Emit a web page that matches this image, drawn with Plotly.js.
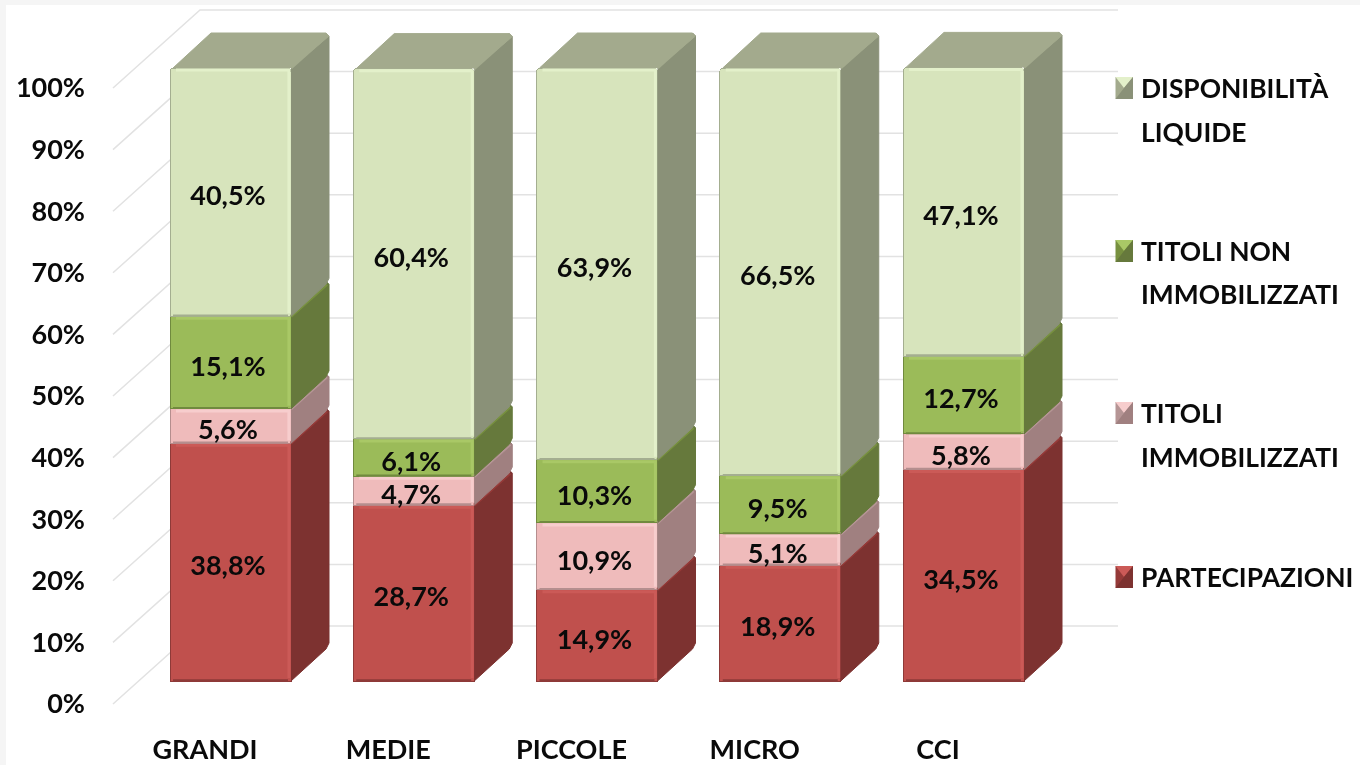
<!DOCTYPE html>
<html><head><meta charset="utf-8">
<script src="https://cdn.plot.ly/plotly-3.0.1.min.js"></script>
<style>html,body{margin:0;padding:0;background:#fff}#c{width:1360px;height:765px;filter:blur(0.5px)}</style>
</head><body><div id="c"></div>
<script>
// ---- data
const categories = ['GRANDI','MEDIE','PICCOLE','MICRO','CCI'];
const partecipazioni = [38.8,28.7,14.9,18.9,34.5];
const titoliImmobilizzati = [5.6,4.7,10.9,5.1,5.8];
const titoliNonImmobilizzati = [15.1,6.1,10.3,9.5,12.7];
const disponibilitaLiquide = [40.5,60.4,63.9,66.5,47.1];
const yTicks = [0,10,20,30,40,50,60,70,80,90,100];
const yTickLabels = ['0%','10%','20%','30%','40%','50%','60%','70%','80%','90%','100%'];
const legendLines = [['DISPONIBILITÀ','LIQUIDE'],['TITOLI NON','IMMOBILIZZATI'],['TITOLI','IMMOBILIZZATI'],['PARTECIPAZIONI']];

// ---- style
const FONT = 'Lato,"Open Sans",sans-serif';
const FS = 27, LEGFS = 26.4;
const W=1360,H=765;
const series = [
 {name:'PARTECIPAZIONI',v:partecipazioni,front:'#C0504D',side:'#7D3230',top:'#953A38',hi:'#CB5A57',lo:'#8E3A38'},
 {name:'TITOLI IMMOBILIZZATI',v:titoliImmobilizzati,front:'#EFBBBB',side:'#A08080',top:'#B59595',hi:'#F7CDCD',lo:'#B58E8E'},
 {name:'TITOLI NON IMMOBILIZZATI',v:titoliNonImmobilizzati,front:'#9BBB59',side:'#66793C',top:'#77903F',hi:'#A9C866',lo:'#708A3E'},
 {name:'DISPONIBILITÀ LIQUIDE',v:disponibilitaLiquide,front:'#D7E4BC',side:'#8A9178',top:'#A3AA8D',hi:'#E3F0CA',lo:'#A4AE90'}
];
// ---- pixel calibration of the planes
const catPx=183.25, barPx=121;
const barCentre0=230.5, labelCentre0=205, valueCentre0=228;
const frontZero=681, frontPerPct=6.13, valueDrop=6.5;
const wallZero=704, wallPerPct=6.16;
const dx=38/catPx, dy=35/frontPerPct, bw=barPx/catPx;
const wx0=(113-labelCentre0)/catPx, wx1=(200-labelCentre0)/catPx, wx2=(1118-labelCentre0)/catPx, wd=78/wallPerPct;
const cx=3/catPx, cy=3/frontPerPct; // chamfer

const traces=[];
// back wall gridlines and the side-wall diagonals
const gx=[],gy=[];
yTicks.forEach(t=>{gx.push(wx0,wx1,wx2,null);gy.push(t,t+wd,t+wd,null);});
traces.push({type:'scatter',mode:'lines',x:gx,y:gy,xaxis:'x',yaxis:'y',line:{color:'#E2E2E2',width:1.5},hoverinfo:'skip',showlegend:false});

const xs=categories.map((_,i)=>i);
// front faces
series.forEach(s=>traces.push({type:'bar',name:s.name,x:xs,y:s.v,xaxis:'x2',yaxis:'y2',width:bw,
  marker:{color:s.front,line:{color:s.lo,width:1}},hoverinfo:'skip',showlegend:false}));

// side faces, top faces, bevels, value labels
const base=xs.map(()=>0);
series.forEach((s,k)=>{
  const sx=[],sy=[],tx=[],ty=[],hx=[],hy=[],lx=[],ly=[],ex=[],ey=[],my=[];
  xs.forEach(i=>{
    const y0=base[i],y1=base[i]+s.v[i],x0=i-bw/2,x1=i+bw/2;
    sx.push(x1,x1+dx-cx,x1+dx,x1+dx,x1+dx-cx,x1,null);
    sy.push(y0,y0+dy-cy,y0+dy+cy,y1+dy-cy,y1+dy,y1,null);
    hx.push(x0+2*cx,x1-cx*0.7,x1-cx*0.7,null); hy.push(y1-cy*0.7,y1-cy*0.7,y0+cy,null);
    lx.push(x0+cx,x1-cx,null); ly.push(y0+0.12,y0+0.12,null);
    ex.push(x1,x1+dx-cx*0.7,null); ey.push(y1,y1+dy-cy,null);
    if(k===series.length-1){
      tx.push(x0+cx,x0+dx+cx,x1+dx-cx,x1+dx,x1,null);
      ty.push(y1,y1+dy,y1+dy,y1+dy-cy,y1,null);
    }
    my.push((y0+y1)/2);
    base[i]=y1;
  });
  traces.push({type:'scatter',mode:'lines',x:sx,y:sy,xaxis:'x2',yaxis:'y2',fill:'toself',fillcolor:s.side,line:{color:s.side,width:1},hoverinfo:'skip',showlegend:false});
  if(tx.length) traces.push({type:'scatter',mode:'lines',x:tx,y:ty,xaxis:'x2',yaxis:'y2',fill:'toself',fillcolor:s.top,line:{color:s.top,width:1},hoverinfo:'skip',showlegend:false});
  traces.push({type:'scatter',mode:'lines',x:ex,y:ey,xaxis:'x2',yaxis:'y2',line:{color:s.top,width:3},hoverinfo:'skip',showlegend:false});
  traces.push({type:'scatter',mode:'lines',x:hx,y:hy,xaxis:'x2',yaxis:'y2',line:{color:s.hi,width:3},hoverinfo:'skip',showlegend:false});
  traces.push({type:'scatter',mode:'lines',x:lx,y:ly,xaxis:'x2',yaxis:'y2',line:{color:s.lo,width:2},hoverinfo:'skip',showlegend:false});
  s.mid=my;
});
series.forEach(s=>traces.push({type:'scatter',mode:'text',x:xs,y:s.mid,xaxis:'x3',yaxis:'y3',
  text:s.v.map(v=>v.toFixed(1).replace('.',',')+'%'),textposition:'middle center',cliponaxis:false,
  textfont:{family:FONT,size:FS,color:'#0a0a0a',weight:700},hoverinfo:'skip',showlegend:false}));

// ---- legend drawn as text lines + bevelled swatches
const px=x=>x/W, py=y=>1-y/H;
const legendY=[[88,132],[251,294],[413,457],[577]];
const swatchY=[88,251,413,577];
const swatchSeries=[3,2,1,0];
const annotations=[], shapes=[
  {type:'rect',xref:'paper',yref:'paper',x0:0,x1:px(6),y0:0,y1:1,fillcolor:'#F5F5F5',line:{width:0},layer:'below'},
  {type:'rect',xref:'paper',yref:'paper',x0:0,x1:1,y0:py(5),y1:1,fillcolor:'#F5F5F5',line:{width:0},layer:'below'}
];
legendLines.forEach((lines,k)=>lines.forEach((t,j)=>annotations.push({
  xref:'paper',yref:'paper',x:px(1141),y:py(legendY[k][j]),xanchor:'left',yanchor:'middle',showarrow:false,
  text:t,font:{family:FONT,size:LEGFS,color:'#0a0a0a',weight:700},borderpad:0,xshift:-1
})));
swatchY.forEach((yc,k)=>{
  const s=series[swatchSeries[k]],a=px(1115.5),b=px(1133),t=py(yc-11),u=py(yc+11),mx=px(1124),my=py(yc);
  const p=(pts,c)=>shapes.push({type:'path',xref:'paper',yref:'paper',line:{width:0},fillcolor:c,
    path:'M'+pts.map(q=>q.join(' ')).join('L')+'Z'});
  p([[a,t],[b,t],[b,u],[a,u]],s.top);
  p([[a,t],[b,t],[mx,my]],s.hi);
  p([[b,t],[b,u],[a,u],[mx,my]],s.side);
});

const layout={
  width:W,height:H,margin:{l:0,r:0,t:0,b:0,pad:0},paper_bgcolor:'#fff',plot_bgcolor:'rgba(0,0,0,0)',
  barmode:'stack',barcornerradius:4,showlegend:false,annotations,shapes,hovermode:false,
  font:{family:FONT,color:'#0a0a0a'},
  xaxis:{type:'linear',domain:[0,1],range:[-labelCentre0/catPx,(W-labelCentre0)/catPx],
    tickmode:'array',tickvals:xs,ticktext:categories,showgrid:false,zeroline:false,showline:false,ticks:'',
    anchor:'free',position:py(731),tickfont:{family:FONT,size:FS,color:'#0a0a0a',weight:700}},
  yaxis:{type:'linear',domain:[0,1],range:[(wallZero-H)/wallPerPct,wallZero/wallPerPct],
    tickmode:'array',tickvals:yTicks,ticktext:yTickLabels,showgrid:false,zeroline:false,showline:false,ticks:'',
    anchor:'free',position:px(85),tickfont:{family:FONT,size:FS,color:'#0a0a0a',weight:700}},
  xaxis2:{overlaying:'x',type:'linear',range:[-barCentre0/catPx,(W-barCentre0)/catPx],visible:false,anchor:'y2'},
  yaxis2:{overlaying:'y',type:'linear',range:[(frontZero-H)/frontPerPct,frontZero/frontPerPct],visible:false,anchor:'x2'},
  xaxis3:{overlaying:'x',type:'linear',range:[-valueCentre0/catPx,(W-valueCentre0)/catPx],visible:false,anchor:'y3'},
  yaxis3:{overlaying:'y',type:'linear',range:[(frontZero+valueDrop-H)/frontPerPct,(frontZero+valueDrop)/frontPerPct],visible:false,anchor:'x3'}
};
Plotly.newPlot('c',traces,layout,{displayModeBar:false,staticPlot:true});
</script></body></html>
